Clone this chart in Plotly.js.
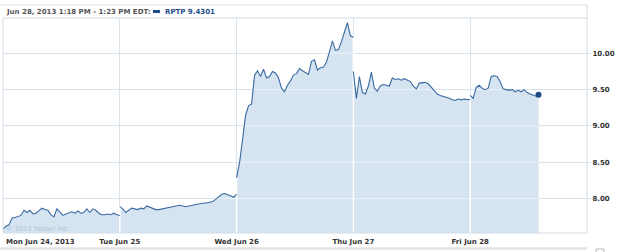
<!DOCTYPE html>
<html><head><meta charset="utf-8">
<script src="https://cdn.plot.ly/plotly-3.0.1.min.js"></script>
<style>html,body{margin:0;padding:0;background:#fff}#chart{width:625px;height:252px}</style>
</head><body><div id="chart"></div>
<script>
// ---- data ----
const dayLabels = ['Mon Jun 24, 2013', 'Tue Jun 25', 'Wed Jun 26', 'Thu Jun 27', 'Fri Jun 28'];
const sessionMinutes = 390;   // 9:30 - 16:00
const stepMinutes = 10;       // sample spacing
const monVals = [7.58,7.62,7.64,7.73,7.74,7.75,7.77,7.84,7.81,7.84,7.79,7.80,7.83,7.87,7.85,7.84,7.78,7.75,7.86,7.82,7.77,7.79,7.80,7.82,7.80,7.83,7.80,7.81,7.86,7.81,7.86,7.84,7.80,7.78,7.78,7.79,7.78,7.80,7.78,7.77];
const tueVals = [7.89,7.86,7.81,7.84,7.87,7.86,7.85,7.87,7.86,7.90,7.88,7.86,7.85,7.85,7.86,7.86,7.87,7.88,7.89,7.90,7.91,7.90,7.89,7.90,7.91,7.92,7.93,7.93,7.94,7.94,7.95,7.96,7.99,8.03,8.06,8.07,8.06,8.04,8.02,8.06];
const wedVals = [8.29,8.50,8.82,9.15,9.28,9.30,9.70,9.76,9.68,9.78,9.66,9.68,9.75,9.73,9.66,9.52,9.47,9.56,9.62,9.70,9.72,9.79,9.76,9.73,9.71,9.89,9.91,9.77,9.80,9.81,9.88,10.02,10.17,10.04,10.05,10.16,10.30,10.42,10.24,10.22];
const thuVals = [9.75,9.38,9.68,9.46,9.44,9.55,9.74,9.52,9.48,9.55,9.57,9.56,9.55,9.66,9.64,9.65,9.63,9.65,9.63,9.61,9.55,9.51,9.59,9.60,9.60,9.58,9.53,9.48,9.44,9.42,9.41,9.40,9.38,9.36,9.35,9.37,9.36,9.37,9.36,9.36];
const friVals = [9.42,9.38,9.53,9.56,9.52,9.50,9.52,9.68,9.69,9.68,9.61,9.51,9.50,9.49,9.50,9.47,9.49,9.47,9.50,9.46,9.44,9.43,9.41];
const friLastMinute = 228;    // 1:18 PM
const friLastVal = 9.4301;
const yTicks = [8.0, 8.5, 9.0, 9.5, 10.0];
const seriesName = 'RPTP';
const headerText = 'Jun 28, 2013 1:18 PM - 1:23 PM EDT:';
const copyrightText = '\u00a9 2013 Yahoo! Inc.';

// ---- build series (x = trading-day index + fraction of session) ----
const days = [monVals, tueVals, wedVals, thuVals, friVals];
const dayX = [], dayY = [];
days.forEach((vals, d) => {
  const xs = vals.map((v, i) => d + i * stepMinutes / sessionMinutes);
  const ys = vals.slice();
  if (d === 4) { xs.push(d + friLastMinute / sessionMinutes); ys.push(friLastVal); }
  dayX.push(xs); dayY.push(ys);
});
const lineX = [], lineY = [], allPts = [];
dayX.forEach((xs, d) => {
  if (d > 0) { lineX.push(null); lineY.push(null); }
  xs.forEach((x, i) => { lineX.push(x); lineY.push(dayY[d][i]); allPts.push([x, dayY[d][i]]); });
});
const lastX = lineX[lineX.length - 1], lastY = lineY[lineY.length - 1];

const yRange = [7.528, 10.664];

// light grid lines drawn over the filled area
const gvX = [], gvY = [];
for (let d = 1; d < 5; d++) {
  const top = Math.max(dayY[d - 1][dayY[d - 1].length - 1], dayY[d][0]);
  gvX.push(d, d, null); gvY.push(yRange[0], top, null);
}
const ghX = [], ghY = [];
yTicks.forEach(v => {
  let start = allPts[0][1] > v ? allPts[0][0] : null;
  for (let k = 1; k < allPts.length; k++) {
    const a = allPts[k - 1], b = allPts[k];
    const ain = a[1] > v, bin = b[1] > v;
    if (ain !== bin) {
      const xc = a[0] === b[0] ? a[0] : a[0] + (v - a[1]) / (b[1] - a[1]) * (b[0] - a[0]);
      if (bin) start = xc; else { ghX.push(start, xc, null); ghY.push(v, v, null); start = null; }
    }
  }
  if (start !== null) { ghX.push(start, allPts[allPts.length - 1][0], null); ghY.push(v, v, null); }
});

const traces = [
  { x: lineX, y: lineY, type: 'scatter', mode: 'none', fill: 'tozeroy', fillcolor: '#d5e4f0', hoverinfo: 'skip', connectgaps: false },
  { x: ghX, y: ghY, type: 'scatter', mode: 'lines', line: { color: '#ebf2f8', width: 1 }, hoverinfo: 'skip' },
  { x: gvX, y: gvY, type: 'scatter', mode: 'lines', line: { color: '#ffffff', width: 1.5 }, hoverinfo: 'skip' },
  { x: lineX, y: lineY, type: 'scatter', mode: 'lines', name: seriesName, line: { color: '#3a6aa2', width: 1.1 }, connectgaps: false },
  { x: [lastX], y: [lastY], type: 'scatter', mode: 'markers', marker: { color: '#1c4b84', size: 6 }, hoverinfo: 'skip' }
];

const W = 625, H = 252, L = 3, R = 38, T = 5, B = 19;
const pw = W - L - R, ph = H - T - B;
const px = p => (p - L) / pw;          // pixel x -> paper
const py = p => (H - B - p) / ph;      // pixel y -> paper

const tickFont = { family: 'DejaVu Sans', size: 7, color: '#333333', weight: 'bold' };
const border = '#d3dde7';

const layout = {
  width: W, height: H,
  margin: { l: L, r: R, t: T, b: B, pad: 0 },
  paper_bgcolor: '#ffffff', plot_bgcolor: '#ffffff',
  showlegend: false,
  xaxis: {
    range: [0, 5], tickmode: 'array', tickvals: [0, 1, 2, 3, 4],
    ticktext: [''].concat(dayLabels.slice(1)),
    showgrid: true, gridcolor: '#dae3eb', gridwidth: 1, zeroline: false, showline: false,
    ticks: '', tickfont: tickFont, ticklabelstandoff: 3, fixedrange: true
  },
  yaxis: {
    range: yRange, side: 'right', tickmode: 'array', tickvals: yTicks, tickformat: '.2f',
    showgrid: true, gridcolor: '#dae3eb', gridwidth: 1, zeroline: false, showline: false,
    ticks: 'outside', ticklen: 3, tickcolor: '#dae3eb', tickfont: tickFont, fixedrange: true
  },
  shapes: [
    // header strip
    { type: 'rect', xref: 'paper', yref: 'paper', x0: px(0), x1: 1, y0: py(18), y1: 1, fillcolor: '#ffffff', line: { width: 0 }, layer: 'above' },
    { type: 'line', xref: 'paper', yref: 'paper', x0: px(0), x1: 1, y0: 1, y1: 1, line: { color: '#dfe2e5', width: 1 }, layer: 'above' },
    { type: 'line', xref: 'paper', yref: 'paper', x0: 0, x1: 1, y0: py(18), y1: py(18), line: { color: border, width: 1 }, layer: 'above' },
    // plot frame
    { type: 'line', xref: 'paper', yref: 'paper', x0: 1, x1: 1, y0: 0, y1: 1, line: { color: border, width: 1 }, layer: 'above' },
    { type: 'line', xref: 'paper', yref: 'paper', x0: 0, x1: 1, y0: 0, y1: 0, line: { color: border, width: 1 }, layer: 'above' },
    { type: 'line', xref: 'paper', yref: 'paper', x0: 0, x1: 0, y0: 0, y1: py(18), line: { color: border, width: 1 }, layer: 'above' },
    // legend swatch
    { type: 'rect', xref: 'paper', yref: 'paper', x0: px(153), x1: px(160), y0: py(13), y1: py(10), fillcolor: '#1f4f8a', line: { width: 0 }, layer: 'above' },
    // gray rule under the date labels
    { type: 'line', xref: 'paper', yref: 'paper', x0: px(0), x1: 1, y0: py(248.5), y1: py(248.5), line: { color: '#e3e3e3', width: 2.5 }, layer: 'above' },
    // small control box at bottom right
    { type: 'rect', xref: 'paper', yref: 'paper', x0: px(596), x1: px(604), y0: py(258), y1: py(249), fillcolor: '#ffffff', line: { color: '#b8b8b8', width: 1 }, layer: 'above' }
  ],
  annotations: [
    { xref: 'paper', yref: 'paper', x: px(4), y: py(11.5), xanchor: 'left', yanchor: 'middle', showarrow: false,
      text: headerText, font: { family: 'DejaVu Sans', size: 7, color: '#555555', weight: 'bold' } },
    { xref: 'paper', yref: 'paper', x: px(162.5), y: py(11.5), xanchor: 'left', yanchor: 'middle', showarrow: false,
      text: seriesName + ' ' + friLastVal.toFixed(4), font: { family: 'DejaVu Sans', size: 7, color: '#1f4f8a', weight: 'bold' } },
    { xref: 'x', yref: 'paper', x: 0, y: py(242), xanchor: 'left', yanchor: 'middle', showarrow: false, xshift: 1,
      text: dayLabels[0], font: tickFont },
    { xref: 'paper', yref: 'paper', x: px(4), y: py(228.5), xanchor: 'left', yanchor: 'middle', showarrow: false,
      text: copyrightText, font: { family: 'DejaVu Sans', size: 6.6, color: '#aec3d8' } }
  ]
};

Plotly.newPlot('chart', traces, layout, { displayModeBar: false, staticPlot: true });
</script>
</body></html>
